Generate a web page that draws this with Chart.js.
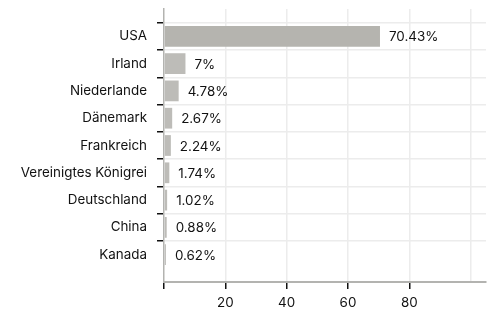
<!DOCTYPE html>
<html>
<head>
<meta charset="utf-8">
<script src="https://cdn.jsdelivr.net/npm/chart.js@4"></script>
<style>
  html, body { margin: 0; padding: 0; background: #fff; }
  #wrap { width: 492px; height: 313px; }
</style>
</head>
<body>
<div id="wrap"><canvas id="canvas"></canvas></div>
<script>
var countries = ["USA", "Irland", "Niederlande", "Dänemark", "Frankreich",
                 "Vereinigtes Königrei", "Deutschland", "China", "Kanada"];
var shares = [70.43, 7, 4.78, 2.67, 2.24, 1.74, 1.02, 0.88, 0.62];
var xTicks = [0, 20, 40, 60, 80, 100];
var xLabels = ["", "20", "40", "60", "80", ""];

// blank slot above and below so the rows sit a full step from the edges
var labels = [""].concat(countries, [""]);
var values = [null].concat(shares, [null]);

var FONT = { family: 'Inter', size: 13.4 };

var valueLabels = {
    id: 'valueLabels',
    afterDatasetsDraw: function(chart) {
        var ctx = chart.ctx;
        var meta = chart.getDatasetMeta(0);
        ctx.save();
        ctx.font = FONT.size + 'px ' + FONT.family;
        ctx.fillStyle = '#111';
        ctx.textAlign = 'left';
        ctx.textBaseline = 'middle';
        meta.data.forEach(function(bar, i) {
            var v = values[i];
            if (v === null) return;
            ctx.fillText(v + '%', bar.x + 9, bar.y + 1);
        });
        ctx.restore();
    }
};

function isBlank(c) { return c.index === 0 || c.index === labels.length - 1; }

window.onload = function() {
    var ctx = document.getElementById("canvas").getContext("2d");
    window.myBar = new Chart(ctx, {
        type: 'bar',
        data: {
            labels: labels,
            datasets: [{
                data: values,
                backgroundColor: values.map(function(v, i) { return i === 1 ? '#b5b4af' : '#bdbcb8'; }),
                barPercentage: 0.95,
                categoryPercentage: 0.8
            }]
        },
        plugins: [valueLabels],
        options: {
            indexAxis: 'y',
            responsive: true,
            maintainAspectRatio: false,
            animation: false,
            layout: { padding: { left: 0, right: 6, top: 9, bottom: 0 } },
            plugins: {
                legend: { display: false },
                tooltip: { enabled: false }
            },
            scales: {
                x: {
                    min: 0,
                    max: 105,
                    afterBuildTicks: function(scale) {
                        scale.ticks = xTicks.map(function(v) { return { value: v }; });
                    },
                    afterFit: function(scale) { scale.height = 31; },
                    ticks: {
                        color: '#111',
                        font: FONT,
                        padding: 6,
                        maxRotation: 0,
                        callback: function(v, i) { return xLabels[i]; }
                    },
                    grid: {
                        color: function(c) { return c.index === 0 ? 'rgba(0,0,0,0)' : '#ececec'; },
                        lineWidth: 1.5,
                        tickColor: function(c) { return c.index === 5 ? 'rgba(0,0,0,0)' : '#111'; },
                        tickLength: 7,
                        tickWidth: 1.5
                    },
                    border: { color: '#b3b3b0', width: 2 }
                },
                y: {
                    offset: false,
                    afterFit: function(scale) {
                        scale.width = 164;
                        scale.paddingTop = 0;
                        scale.paddingBottom = 0;
                    },
                    ticks: {
                        color: '#111',
                        font: FONT,
                        padding: 10,
                        autoSkip: false
                    },
                    grid: {
                        color: function(c) { return isBlank(c) ? 'rgba(0,0,0,0)' : '#ececec'; },
                        lineWidth: 1.5,
                        tickColor: function(c) { return isBlank(c) ? 'rgba(0,0,0,0)' : '#111'; },
                        tickLength: 7,
                        tickWidth: 1.5
                    },
                    border: { color: '#b3b3b0', width: 1.5 }
                }
            }
        }
    });
};
</script>
</body>
</html>
